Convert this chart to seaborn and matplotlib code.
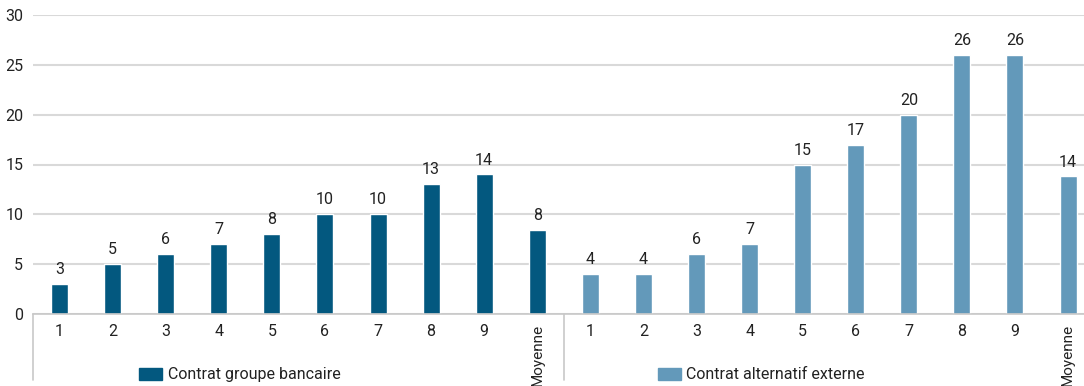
import matplotlib
matplotlib.use("Agg")
import matplotlib.pyplot as plt
import matplotlib.transforms as mtransforms
from matplotlib.patches import Rectangle
import seaborn as sns
import pandas as pd

# ---- data ----
categories = ["1", "2", "3", "4", "5", "6", "7", "8", "9", "Moyenne"]
groupe_bancaire = [3, 5, 6, 7, 8, 10, 10, 13, 14, 8.4]
alternatif_externe = [4, 4, 6, 7, 15, 17, 20, 26, 26, 13.8]
series_names = ["Contrat groupe bancaire", "Contrat alternatif externe"]
colors = ["#03587F", "#6399BA"]
y_ticks = [0, 5, 10, 15, 20, 25, 30]

sns.set_theme(style="white")
plt.rcParams["font.family"] = ["Roboto", "DejaVu Sans"]

FS = 11.5
TXT = "#222222"

keys = [f"A{c}" for c in categories] + [f"B{c}" for c in categories]
df = pd.DataFrame({
    "key": keys,
    "value": groupe_bancaire + alternatif_externe,
    "serie": [series_names[0]] * len(categories) + [series_names[1]] * len(categories),
})

W, H = 1084, 386
left_px, slot = 33, 53.08
fig = plt.figure(figsize=(W / 100, H / 100), dpi=100)
ax = fig.add_axes([left_px / W, (H - 314) / H, slot * 20 / W, (314 - 15) / H])

sns.barplot(data=df, x="key", y="value", hue="serie", order=keys,
            hue_order=series_names, palette=colors, dodge=False,
            width=0.32, ax=ax, legend=False, saturation=1)

ax.set_ylim(0, 30)
ax.set_xlim(-0.5, len(keys) - 0.5)
ax.set_yticks(y_ticks)
ax.set_yticklabels([str(t) for t in y_ticks], fontsize=FS, color=TXT)
ax.grid(axis="y", color="#d9d9d9", linewidth=1.5)
ax.set_axisbelow(True)
for s in ["top", "right", "left"]:
    ax.spines[s].set_visible(False)
ax.spines["bottom"].set_color("#c8c8c8")
ax.spines["bottom"].set_linewidth(1.2)
ax.tick_params(axis="y", length=0, pad=7)
ax.tick_params(axis="x", length=0, pad=7)
ax.set_xlabel("")
ax.set_ylabel("")

ax.set_xticks(range(len(keys)))
ax.set_xticklabels(categories + categories, fontsize=FS, color=TXT)
for lab in ax.get_xticklabels():
    if lab.get_text() == "Moyenne":
        lab.set_rotation(90)
        lab.set_va("top")
        lab.set_fontsize(11)

for cont in ax.containers:
    ax.bar_label(cont, labels=[f"{round(b.get_height()):d}" if b.get_height() > 0 else "" for b in cont],
                 padding=5, fontsize=FS, color=TXT)

trans = mtransforms.blended_transform_factory(ax.transData, ax.transAxes)
for xs in [-0.5, 9.5, 19.5]:
    ax.plot([xs, xs], [0, -0.222], transform=trans, color="#c8c8c8", lw=1.2, clip_on=False)

# legend items under each group
legend_x = [1.5, 11.27]
for x0, name, col in zip(legend_x, series_names, colors):
    ax.add_patch(Rectangle((x0, -0.222), 0.433, 0.04, transform=trans, color=col, clip_on=False))
    ax.text(x0 + 0.54, -0.201, name, transform=trans, fontsize=FS, color=TXT,
            va="center", ha="left")

fig.savefig("out.png", dpi=100)
